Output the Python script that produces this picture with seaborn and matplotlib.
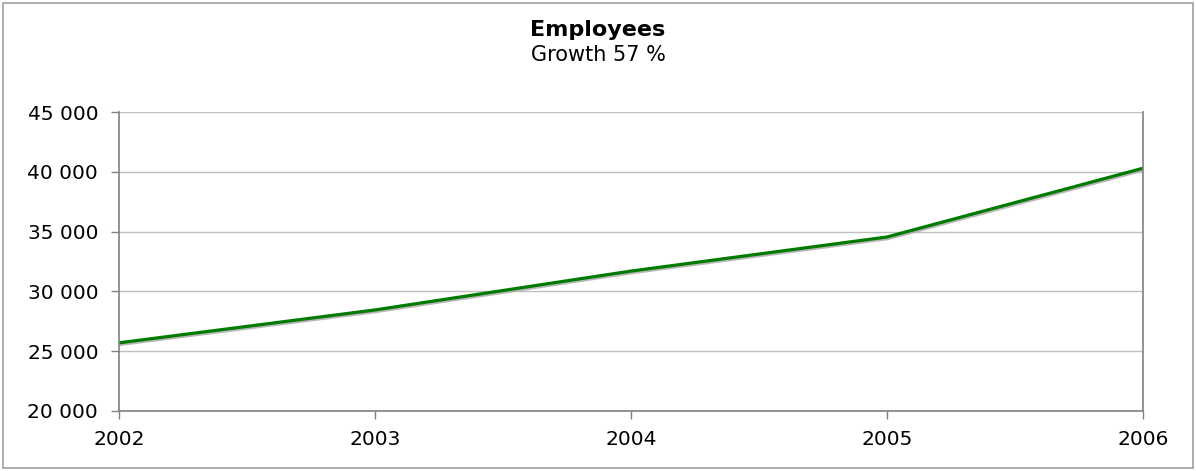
import matplotlib
matplotlib.use("Agg")
import matplotlib.pyplot as plt
import matplotlib.patheffects as pe
from matplotlib.patches import Rectangle
import seaborn as sns
import pandas as pd

years = [2002, 2003, 2004, 2005, 2006]
employees = [25700, 28450, 31700, 34550, 40300]
yticks = [20000, 25000, 30000, 35000, 40000, 45000]
title = "Employees"
subtitle = "Growth 57 %"

sns.set_theme(style="white")
plt.rcParams['font.family'] = ['DejaVu Sans']
plt.rcParams['text.color'] = 'black'

df = pd.DataFrame({"year": years, "employees": employees})

fig = plt.figure(figsize=(11.96, 4.71), dpi=100)
ax = fig.add_axes([119/1196, 1 - 411/471, (1143 - 119)/1196, (411 - 112)/471])

sns.lineplot(data=df, x="year", y="employees", ax=ax, color="#007a00", linewidth=2.3,
             path_effects=[pe.SimpleLineShadow(offset=(0.6, -1.2), shadow_color="#b0b0b0", alpha=0.9),
                           pe.Normal()])

ax.set_xlim(years[0], years[-1])
ax.set_ylim(yticks[0], yticks[-1])
ax.set_xticks(years)
ax.set_xticklabels([str(y) for y in years])
ax.set_yticks(yticks)
ax.set_yticklabels([f"{v:,}".replace(",", " ") for v in yticks])
ax.yaxis.grid(True, color="#c0c0c0", linewidth=1)
ax.xaxis.grid(False)
ax.set_xlabel("")
ax.set_ylabel("")
for s in ["left", "bottom", "right"]:
    ax.spines[s].set_visible(True)
    ax.spines[s].set_color("#808080")
    ax.spines[s].set_linewidth(1.2)
ax.spines["top"].set_visible(False)
ax.tick_params(axis="both", which="both", length=6, width=1, color="#808080",
               labelsize=14.5, labelcolor="black", bottom=True, left=True, direction="out")
ax.tick_params(axis="x", pad=8)
ax.tick_params(axis="y", pad=9)

fig.text(0.5, 1 - 30/471, title, ha="center", va="center", fontsize=16, fontweight="bold", color="black")
fig.text(0.5, 1 - 55/471, subtitle, ha="center", va="center", fontsize=15, color="black")

fig.add_artist(Rectangle((3/1196, 3/471), 1190/1196, 465/471, transform=fig.transFigure,
                         fill=False, edgecolor="#a0a0a0", linewidth=1.2))

fig.savefig("out.png", dpi=100)
